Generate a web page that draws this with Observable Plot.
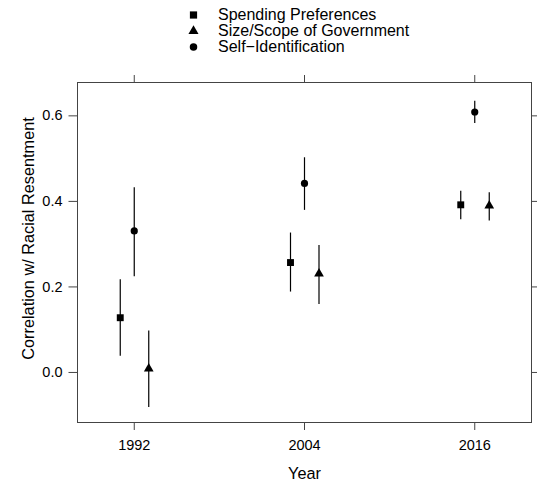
<!DOCTYPE html>
<html>
<head>
<meta charset="utf-8">
<script src="https://cdn.jsdelivr.net/npm/d3@7"></script>
<script src="https://cdn.jsdelivr.net/npm/@observablehq/plot@0.6"></script>
<style>
  body { margin: 0; background: white; font-family: "Liberation Sans", Arial, sans-serif; }
  #legend { height: 56px; width: 537px; position: relative; }
  #legend svg, #chart svg { display: block; }
</style>
</head>
<body>
<div id="legend"></div>
<div id="chart"></div>
<script>
const years = [1992, 2004, 2016];
const seriesNames = ["Spending Preferences", "Size/Scope of Government", "Self\u2212Identification"];
const seriesSymbols = ["square", "triangle", "circle"];

const spendingEst = [0.128, 0.257, 0.392];
const spendingLo  = [0.038, 0.188, 0.357];
const spendingHi  = [0.217, 0.326, 0.424];

const sizeEst = [0.009, 0.231, 0.390];
const sizeLo  = [-0.082, 0.159, 0.354];
const sizeHi  = [0.097, 0.297, 0.420];

const selfEst = [0.331, 0.442, 0.609];
const selfLo  = [0.224, 0.379, 0.582];
const selfHi  = [0.432, 0.502, 0.634];

const yTicks = [0, 0.2, 0.4, 0.6];

function rows(est, lo, hi) {
  return years.map((y, i) => ({year: y, est: est[i], lo: lo[i], hi: hi[i]}));
}
const spending = rows(spendingEst, spendingLo, spendingHi);
const size = rows(sizeEst, sizeLo, sizeHi);
const self = rows(selfEst, selfLo, selfHi);

// Legend (above the plot SVG)
const lg = d3.select("#legend").append("svg").attr("width", 537).attr("height", 56);
const symGen = {square: d3.symbolSquare, triangle: d3.symbolTriangle, circle: d3.symbolCircle};
const symSize = {square: 52, triangle: 44, circle: 44};
seriesNames.forEach((name, i) => {
  const base = 20.3 + i * 16;
  lg.append("path")
    .attr("d", d3.symbol(symGen[seriesSymbols[i]], symSize[seriesSymbols[i]])())
    .attr("transform", `translate(193.5,${base - 5.3})`)
    .attr("fill", "black");
  lg.append("text")
    .attr("x", 218).attr("y", base)
    .attr("font-size", 16)
    .attr("font-family", "Liberation Sans, Arial, sans-serif")
    .text(name);
});

const axisStroke = "#444";
const chart = Plot.plot({
  width: 537,
  height: 426,
  marginTop: 26,
  marginBottom: 60,
  marginLeft: 77,
  marginRight: 6,
  style: {fontFamily: "Liberation Sans, Arial, sans-serif", fontSize: "14.5px", background: "white", color: "black"},
  x: {domain: [1988, 2020]},
  y: {domain: [-0.117, 0.678]},
  marks: [
    Plot.frame({stroke: axisStroke}),
    Plot.axisX({ticks: years, tickSize: 8, tickPadding: 9, tickFormat: d => String(d), label: null, stroke: axisStroke}),
    Plot.axisX({anchor: "top", ticks: years, tickSize: 8, tickFormat: () => "", label: null, stroke: axisStroke}),
    Plot.axisY({ticks: yTicks, tickSize: 8.5, tickPadding: 6.5, tickFormat: d3.format(".1f"), label: null, stroke: axisStroke}),
    Plot.axisY({anchor: "right", ticks: yTicks, tickSize: 8.5, tickFormat: () => "", label: null, stroke: axisStroke}),
    Plot.text(["Year"], {frameAnchor: "bottom", dy: 44.7, fontSize: 16.3, lineAnchor: "top", textAnchor: "middle"}),
    Plot.text(["Correlation w/ Racial Resentment"], {frameAnchor: "left", dx: -55.3, dy: -14, rotate: -90, fontSize: 16.3, lineAnchor: "top", textAnchor: "middle"}),
    Plot.ruleX(spending, {x: "year", y1: "lo", y2: "hi", dx: -14, stroke: "black", strokeWidth: 1.2}),
    Plot.ruleX(size, {x: "year", y1: "lo", y2: "hi", dx: 14.5, stroke: "black", strokeWidth: 1.2}),
    Plot.ruleX(self, {x: "year", y1: "lo", y2: "hi", stroke: "black", strokeWidth: 1.2}),
    Plot.dot(spending, {x: "year", y: "est", dx: -14, symbol: "square", r: 3.9, fill: "black", stroke: "none"}),
    Plot.dot(size, {x: "year", y: "est", dx: 14.5, symbol: "triangle", r: 3.6, fill: "black", stroke: "none"}),
    Plot.dot(self, {x: "year", y: "est", symbol: "circle", r: 3.6, fill: "black", stroke: "none"})
  ]
});
document.getElementById("chart").appendChild(chart);
</script>
</body>
</html>
